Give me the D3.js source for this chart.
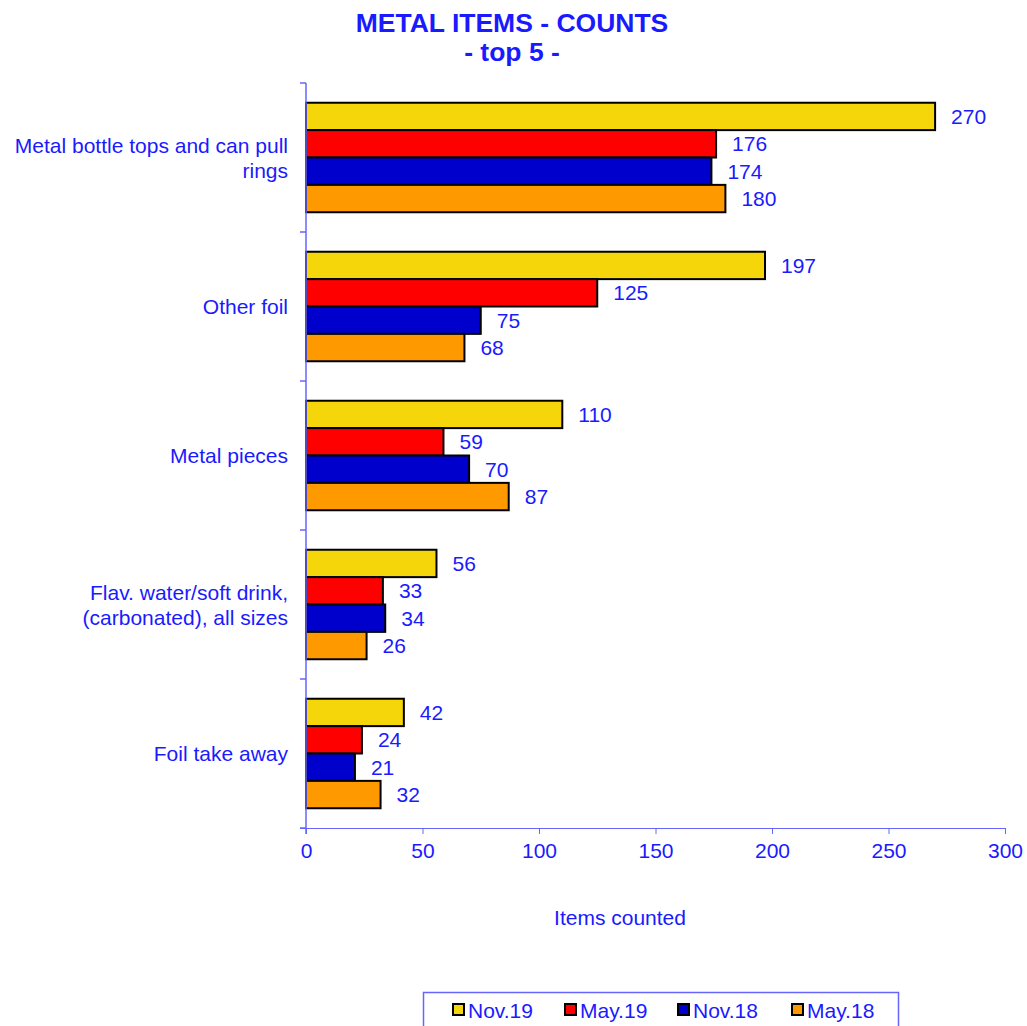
<!DOCTYPE html>
<html><head><meta charset="utf-8">
<script src="https://cdn.jsdelivr.net/npm/d3@7"></script>
<style>body{margin:0;background:#fff}svg{display:block}text{font-family:"Liberation Sans",Arial,sans-serif}</style>
</head><body>
<svg id="c" width="1027" height="1026"></svg>
<script>
const categories = [["Metal bottle tops and can pull","rings"],["Other foil"],["Metal pieces"],["Flav. water/soft drink,","(carbonated), all sizes"],["Foil take away"]];
const seriesNames = ["Nov.19","May.19","Nov.18","May.18"];
const seriesColors = ["#f5d60a","#ff0000","#0000cc","#ff9900"];
const nov19 = [270,197,110,56,42];
const may19 = [176,125,59,33,24];
const nov18 = [174,75,70,34,21];
const may18 = [180,68,87,26,32];
const values = [nov19,may19,nov18,may18];
const xTicks = [0,50,100,150,200,250,300];

const txt = "#1a1aff", axisCol = "#6666ff";
const FS = 21;
const svg = d3.select("#c");
const x = d3.scaleLinear().domain([0,300]).range([306,1005]);
const y = d3.scaleBand().domain(d3.range(categories.length)).range([83,828]).paddingInner(0.265).paddingOuter(0.1325);
const yInner = d3.scaleBand().domain(d3.range(seriesNames.length)).range([0,y.bandwidth()]);

// title
svg.append("text").attr("x",512).attr("y",32).attr("text-anchor","middle").attr("font-size",26.5).attr("font-weight","bold").attr("fill",txt).text("METAL ITEMS - COUNTS");
svg.append("text").attr("x",512).attr("y",61).attr("text-anchor","middle").attr("font-size",26.5).attr("font-weight","bold").attr("fill",txt).text("- top 5 -");

// bars
values.forEach((arr,si)=>{
  svg.append("g").selectAll("rect").data(arr).join("rect")
    .attr("x",x(0)).attr("y",(d,i)=>y(i)+yInner(si))
    .attr("width",d=>x(d)-x(0)).attr("height",yInner.bandwidth())
    .attr("fill",seriesColors[si]).attr("stroke","#000").attr("stroke-width",2);
  svg.append("g").selectAll("text").data(arr).join("text")
    .attr("x",d=>x(d)+16).attr("y",(d,i)=>y(i)+yInner(si)+yInner.bandwidth()/2)
    .attr("dy","0.36em").attr("font-size",FS).attr("fill",txt).text(d=>d);
});

// x axis
const xa = svg.append("g").attr("transform","translate(0,828)")
  .call(d3.axisBottom(x).tickValues(xTicks).tickSize(6).tickPadding(9).tickSizeOuter(0));
xa.select(".domain").attr("stroke",axisCol).attr("d","M300,0.5H1005");
xa.selectAll("line").attr("stroke",axisCol);
xa.selectAll("text").attr("font-size",FS).attr("fill",txt).attr("font-family","Liberation Sans, Arial, sans-serif");

// y axis
const yTickPos = d3.range(categories.length+1).map(i=> i<categories.length ? y(i)-y.step()*y.paddingInner()/2 : 828);
svg.append("line").attr("x1",306).attr("x2",306).attr("y1",83).attr("y2",834).attr("stroke",axisCol).attr("stroke-width",1.5);
svg.append("g").selectAll("line").data(yTickPos).join("line")
  .attr("x1",300).attr("x2",306).attr("y1",d=>d).attr("y2",d=>d).attr("stroke",axisCol).attr("stroke-width",1.5);

// category labels
categories.forEach((lines,i)=>{
  const cy = y(i)+y.bandwidth()/2;
  const t = svg.append("text").attr("text-anchor","end").attr("font-size",FS).attr("fill",txt);
  lines.forEach((l,j)=>{
    t.append("tspan").attr("x",288).attr("y",cy+(j-(lines.length-1)/2)*25).attr("dy","0.36em").text(l);
  });
});

// x title
svg.append("text").attr("x",620).attr("y",925).attr("text-anchor","middle").attr("font-size",FS).attr("fill",txt).text("Items counted");

// legend
svg.append("rect").attr("x",423.5).attr("y",992.5).attr("width",475).attr("height",50).attr("fill","none").attr("stroke",axisCol).attr("stroke-width",1.5);
const legX = [453,565,678,792];
seriesNames.forEach((n,i)=>{
  svg.append("rect").attr("x",legX[i]).attr("y",1004).attr("width",11).attr("height",11).attr("fill",seriesColors[i]).attr("stroke","#000").attr("stroke-width",2);
  svg.append("text").attr("x",legX[i]+15).attr("y",1010).attr("dy","0.36em").attr("font-size",FS).attr("fill",txt).text(n);
});
</script>
</body></html>
